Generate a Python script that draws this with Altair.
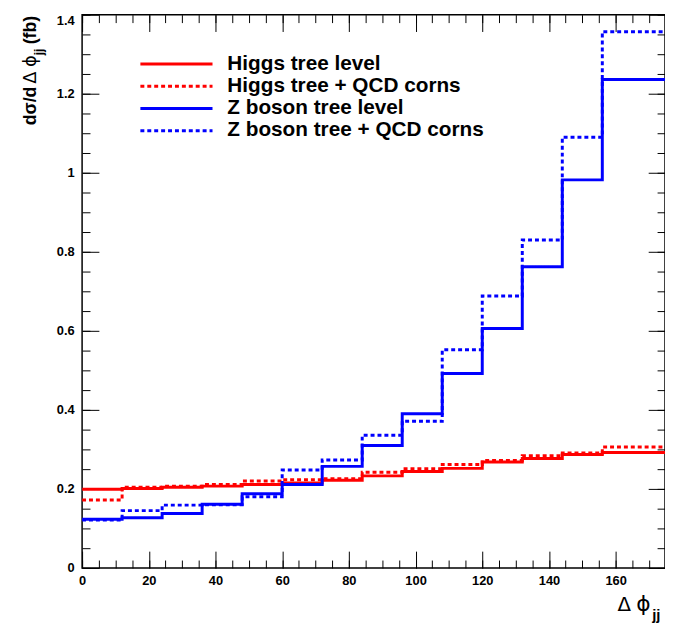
import altair as alt
import pandas as pd

# ---- data ----
bin_edges = [0, 12, 24, 36, 48, 60, 72, 84, 96, 108, 120, 132, 144, 156]
x_last_edge = 180
series_names = ["Higgs tree level", "Higgs tree + QCD corns",
                "Z boson tree level", "Z boson tree + QCD corns"]
higgs_tree = [0.199, 0.201, 0.204, 0.207, 0.211, 0.215, 0.222, 0.233, 0.244, 0.252, 0.268, 0.277, 0.287, 0.292]
higgs_qcd = [0.172, 0.204, 0.207, 0.211, 0.220, 0.223, 0.226, 0.242, 0.251, 0.262, 0.272, 0.284, 0.291, 0.306]
z_tree = [0.123, 0.127, 0.138, 0.161, 0.188, 0.211, 0.257, 0.310, 0.390, 0.492, 0.606, 0.762, 0.982, 1.236]
z_qcd = [0.121, 0.145, 0.159, 0.160, 0.180, 0.248, 0.273, 0.336, 0.371, 0.552, 0.688, 0.830, 1.090, 1.357]
series_values = [higgs_tree, higgs_qcd, z_tree, z_qcd]

x_major = [0, 20, 40, 60, 80, 100, 120, 140, 160]
x_minor = [0, 5, 10, 15, 20, 25, 30, 35, 40, 45, 50, 55, 60, 65, 70, 75, 80, 85,
           90, 95, 100, 105, 110, 115, 120, 125, 130, 135, 140, 145, 150, 155, 160, 165, 170]
y_major = [0, 0.2, 0.4, 0.6, 0.8, 1.0, 1.2, 1.4]
y_minor = [0, 0.05, 0.1, 0.15, 0.2, 0.25, 0.3, 0.35, 0.4, 0.45, 0.5, 0.55, 0.6, 0.65,
           0.7, 0.75, 0.8, 0.85, 0.9, 0.95, 1.0, 1.05, 1.1, 1.15, 1.2, 1.25, 1.3, 1.35, 1.4]
x_domain = [0, 174.8]
y_domain = [0, 1.4]

# ---- styles ----
colors = ["#ff0000", "#ff0000", "#0000ff", "#0000ff"]
dashes = [[1, 0], [4, 3], [1, 0], [4, 3]]
FONT = "Liberation Sans"
SYM = "DejaVu Sans"
W, H = 590, 560

rows = []
for name, vals in zip(series_names, series_values):
    for e, v in zip(bin_edges + [x_last_edge], vals + [vals[-1]]):
        rows.append({"series": name, "x": e, "y": v})
df = pd.DataFrame(rows)

xs = alt.Scale(domain=x_domain, nice=False, zero=False)
ys = alt.Scale(domain=y_domain, nice=False, zero=False)

layers = []
# histogram step lines
for name, c, d in zip(series_names, colors, dashes):
    layers.append(
        alt.Chart(df).transform_filter(alt.datum.series == name)
        .mark_line(interpolate="step-after", clip=True, color=c, strokeWidth=3,
                   strokeDash=d, strokeCap="butt")
        .encode(x=alt.X("x:Q", scale=xs, axis=None),
                y=alt.Y("y:Q", scale=ys, axis=None))
    )

def hidden(xaxis, yaxis):
    return alt.Chart(df).mark_point(opacity=0, clip=True).encode(
        x=alt.X("x:Q", scale=xs, axis=xaxis),
        y=alt.Y("y:Q", scale=ys, axis=yaxis))

lab = dict(labelFont=FONT, labelFontWeight="bold", labelFontSize=13,
           labelColor="black", labelOverlap=False, labelFlush=False,
           ticks=False, tickSize=0, domain=False, grid=False, title=None)
# label axes
layers.append(hidden(
    alt.Axis(orient="bottom", values=x_major, labelPadding=7, **lab),
    alt.Axis(orient="left", values=y_major, labelPadding=8, format="~g",
             labelBaseline={"condition": {"test": "datum.value >= 1.39", "value": "top"},
                            "value": "middle"}, **lab)))

tk = dict(labels=False, domain=False, grid=False, title=None, ticks=True,
          tickColor="black", tickWidth=1)
# inward ticks on all four sides
for vals, size in [(x_major, 17), (x_minor, 8)]:
    layers.append(hidden(alt.Axis(orient="top", offset=-H, values=vals, tickSize=size, **tk), None))
    layers.append(hidden(alt.Axis(orient="bottom", offset=-H, values=vals, tickSize=size, **tk), None))
for vals, size in [(y_major, 17), (y_minor, 8)]:
    layers.append(hidden(None, alt.Axis(orient="right", offset=-W, values=vals, tickSize=size, **tk)))
    layers.append(hidden(None, alt.Axis(orient="left", offset=-W, values=vals, tickSize=size, **tk)))

# legend
leg_line_y = [50, 72.5, 95, 117.5]
for name, c, d, ly in zip(series_names, colors, dashes, leg_line_y):
    one = pd.DataFrame({"label": [name]})
    layers.append(alt.Chart(one).mark_rule(color=c, strokeWidth=3, strokeDash=d, strokeCap="butt")
                  .encode(x=alt.value(59), x2=alt.value(132), y=alt.value(ly)))
    layers.append(alt.Chart(one).mark_text(align="left", baseline="alphabetic", font=FONT,
                                           fontWeight="bold", fontSize=21, color="black")
                  .encode(text="label:N", x=alt.value(147), y=alt.value(ly + 5.5)))

# axis titles
one = pd.DataFrame({"k": [0]})
def txt(t, x, y, size, weight, angle=0, font=FONT):
    return alt.Chart(one).mark_text(text=t, align="left", baseline="alphabetic", font=font,
                                    fontSize=size, fontWeight=weight, angle=angle,
                                    color="black").encode(x=alt.value(x), y=alt.value(y))

layers.append(txt("dσ/d", -46.5, 112, 18, "bold", angle=270))
layers.append(txt("Δ", -46.5, 70, 18, "normal", angle=270, font=SYM))
layers.append(txt("ϕ", -46.5, 53, 18, "normal", angle=270, font=SYM))
layers.append(txt("jj", -40, 41, 12, "bold", angle=270))
layers.append(txt("(fb)", -46.5, 30, 18, "bold", angle=270))
layers.append(txt("Δ", 542, 604, 20, "normal", font=SYM))
layers.append(txt("ϕ", 561, 604, 22, "normal", font=SYM))
layers.append(txt("jj", 577, 613, 15, "bold"))

chart = alt.layer(*layers).resolve_axis(x="independent", y="independent").properties(
    width=W, height=H, autosize="none",
    padding={"left": 75, "top": 3, "right": 0, "bottom": 55},
    background="white",
).configure_view(stroke="black", strokeWidth=1.5)

chart.save("out.html", embed_options={"renderer": "svg", "actions": False})
